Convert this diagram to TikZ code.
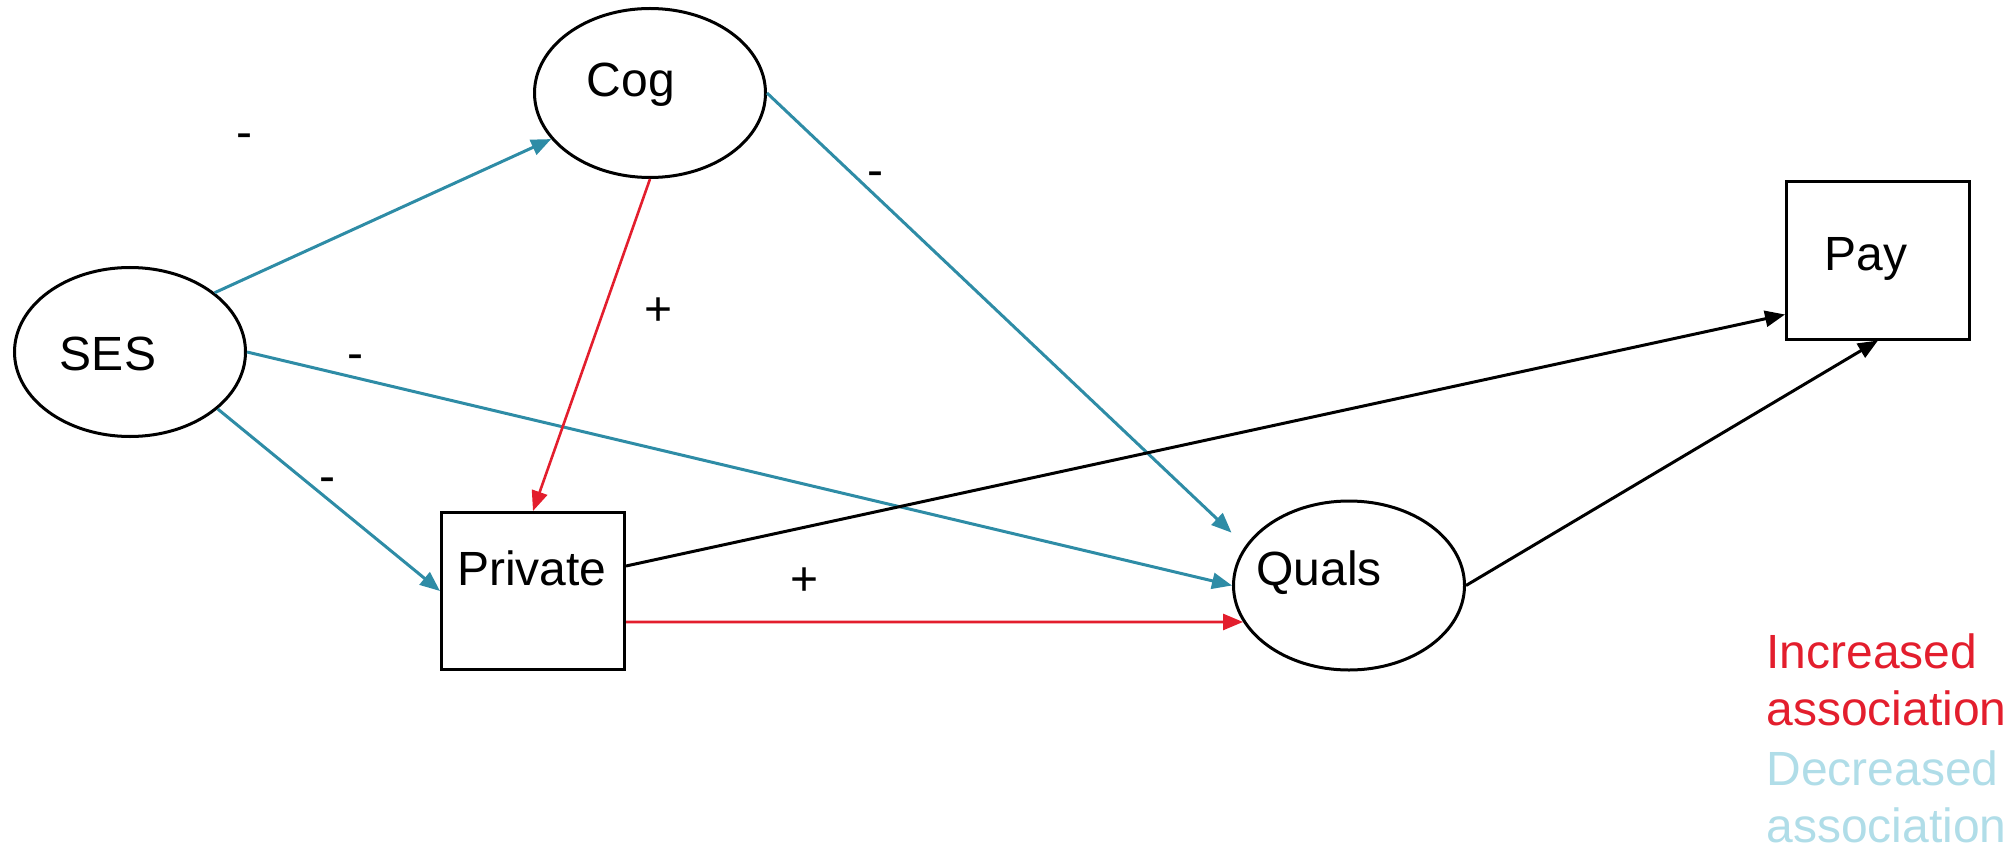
\documentclass[tikz,border=0pt]{standalone}
\usepackage{fontspec}
\setmainfont{Liberation Sans}
\usetikzlibrary{arrows.meta,shapes.geometric}
\definecolor{decblue}{RGB}{46,140,166}
\definecolor{incred}{RGB}{227,30,45}
\definecolor{legblue}{RGB}{176,221,232}
\begin{document}
\begin{tikzpicture}[x=0.5pt,y=-0.5pt,
  every node/.style={font=\fontsize{24pt}{28.75pt}\selectfont},
  ell/.style={ellipse,draw,line width=1.5pt,inner sep=0pt,minimum width=115.5pt,minimum height=84.5pt},
  box/.style={rectangle,draw,line width=1.5pt,inner sep=0pt,minimum width=91.5pt,minimum height=78.5pt},
  nodetxt/.style={anchor=base,inner sep=0pt},
  signtxt/.style={anchor=base,inner sep=0pt},
  arrowtip/.style={-{Triangle[length=10pt,width=8pt]}},
  decedge/.style={draw=decblue,line width=1.5pt,arrowtip},
  incedge/.style={draw=incred,line width=1.3pt,arrowtip},
  blkedge/.style={draw=black,line width=1.5pt,arrowtip},
  legendtxt/.style={anchor=north west,inner sep=0pt,align=left}
]
\useasboundingbox (0,0) rectangle (2012,845);

% nodes
\node[ell] (ses) at (130,352) {};
\node[ell] (cog) at (650,93) {};
\node[ell] (quals) at (1349,585.5) {};
\node[box] (private) at (533,591) {};
\node[box] (pay) at (1878,260.5) {};

% node texts (baselines)
\node[nodetxt] (seslbl) at ([xshift=-11pt,yshift=-9pt]ses.center) {SES};
\node[nodetxt] (coglbl) at ([xshift=-9.5pt,yshift=-2pt]cog.center) {Cog};
\node[nodetxt] (qualslbl) at ([xshift=-15pt,yshift=0pt]quals.center) {Quals};
\node[nodetxt] (privatelbl) at ([xshift=-0.5pt,yshift=3pt]private.center) {Private};
\node[nodetxt] (paylbl) at ([xshift=-6pt,yshift=-5pt]pay.center) {Pay};

% connectors
\draw[decedge] (ses.35) -- (cog.205);
\draw[decedge] (ses.-33) -- (private.west);
\draw[decedge] (ses.east) -- (quals.west);
\draw[incedge] (cog.south) -- (private.north);
\draw[decedge,shorten >=9.5pt] (cog.east) -- (quals.159);
\draw[incedge] ([yshift=-15.5pt]private.east) -- (quals.199);
\draw[blkedge] ([yshift=12.5pt]private.east) -- ([yshift=-27pt]pay.west);
\draw[blkedge] (quals.east) -- (pay.south);

% signs
\node[signtxt] (m1) at (244,149) {-};
\node[signtxt] (p1) at (659,325) {+};
\node[signtxt] (m2) at (355,369) {-};
\node[signtxt] (m3) at (327,492) {-};
\node[signtxt] (m4) at (875,187) {-};
\node[signtxt] (p2) at (805,595) {+};

% legend
\node[legendtxt,text=incred] (inc) at (1766,633) {Increased\\association};
\node[legendtxt,text=legblue] (dec) at (1766,750) {Decreased\\association};
\end{tikzpicture}
\end{document}
